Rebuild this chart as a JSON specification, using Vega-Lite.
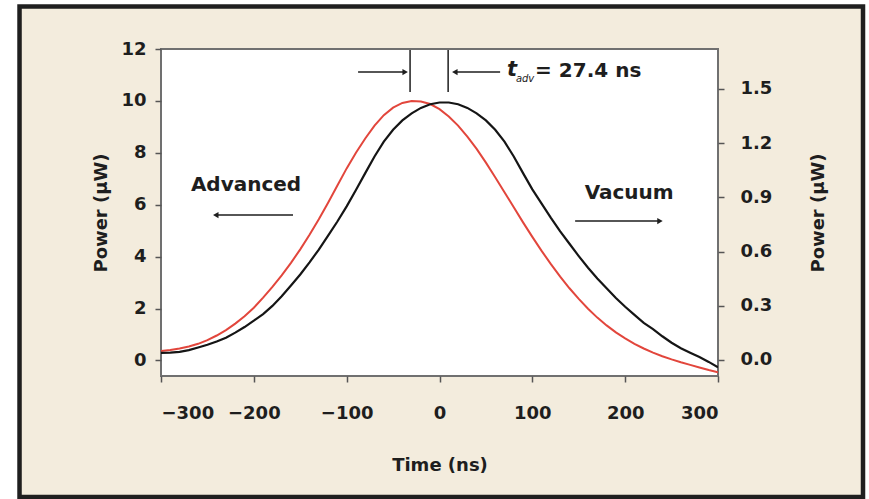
{
  "$schema": "https://vega.github.io/schema/vega-lite/v6.json",
  "width": 557,
  "height": 327,
  "autosize": {"type": "none"},
  "padding": {"left": 161, "top": 49, "right": 151, "bottom": 123},
  "background": "white",
  "config": {
    "view": {"stroke": null},
    "axis": {
      "grid": false,
      "domain": false,
      "tickColor": "#555555",
      "tickWidth": 1.5,
      "tickSize": 6,
      "labelFont": "DejaVu Sans",
      "labelFontWeight": "bold",
      "labelFontSize": 18,
      "labelColor": "#1e1e1e",
      "titleFont": "DejaVu Sans",
      "titleFontWeight": "bold",
      "titleFontSize": 18,
      "titleColor": "#1e1e1e"
    },
    "text": {"font": "DejaVu Sans", "fontWeight": "bold", "fontSize": 20, "color": "#1e1e1e"}
  },
  "datasets": {
    "pulse": [
      {"t": -300, "advanced": 0.36, "vacuum": 0.039},
      {"t": -290, "advanced": 0.40, "vacuum": 0.040},
      {"t": -280, "advanced": 0.46, "vacuum": 0.045},
      {"t": -270, "advanced": 0.54, "vacuum": 0.054},
      {"t": -260, "advanced": 0.64, "vacuum": 0.069},
      {"t": -250, "advanced": 0.78, "vacuum": 0.084},
      {"t": -240, "advanced": 0.96, "vacuum": 0.102},
      {"t": -230, "advanced": 1.17, "vacuum": 0.123},
      {"t": -220, "advanced": 1.42, "vacuum": 0.151},
      {"t": -210, "advanced": 1.70, "vacuum": 0.182},
      {"t": -200, "advanced": 2.03, "vacuum": 0.217},
      {"t": -190, "advanced": 2.42, "vacuum": 0.254},
      {"t": -180, "advanced": 2.83, "vacuum": 0.299},
      {"t": -170, "advanced": 3.28, "vacuum": 0.353},
      {"t": -160, "advanced": 3.76, "vacuum": 0.412},
      {"t": -150, "advanced": 4.28, "vacuum": 0.473},
      {"t": -140, "advanced": 4.84, "vacuum": 0.540},
      {"t": -130, "advanced": 5.44, "vacuum": 0.611},
      {"t": -120, "advanced": 6.08, "vacuum": 0.688},
      {"t": -110, "advanced": 6.74, "vacuum": 0.766},
      {"t": -100, "advanced": 7.40, "vacuum": 0.850},
      {"t": -90, "advanced": 8.00, "vacuum": 0.941},
      {"t": -80, "advanced": 8.55, "vacuum": 1.034},
      {"t": -70, "advanced": 9.05, "vacuum": 1.126},
      {"t": -60, "advanced": 9.45, "vacuum": 1.208},
      {"t": -50, "advanced": 9.74, "vacuum": 1.274},
      {"t": -40, "advanced": 9.92, "vacuum": 1.326},
      {"t": -30, "advanced": 10.0, "vacuum": 1.365},
      {"t": -20, "advanced": 9.98, "vacuum": 1.395},
      {"t": -10, "advanced": 9.88, "vacuum": 1.415},
      {"t": 0, "advanced": 9.68, "vacuum": 1.425},
      {"t": 10, "advanced": 9.40, "vacuum": 1.425},
      {"t": 20, "advanced": 9.05, "vacuum": 1.415},
      {"t": 30, "advanced": 8.62, "vacuum": 1.395},
      {"t": 40, "advanced": 8.15, "vacuum": 1.365},
      {"t": 50, "advanced": 7.62, "vacuum": 1.326},
      {"t": 60, "advanced": 7.06, "vacuum": 1.274},
      {"t": 70, "advanced": 6.48, "vacuum": 1.208},
      {"t": 80, "advanced": 5.90, "vacuum": 1.126},
      {"t": 90, "advanced": 5.32, "vacuum": 1.034},
      {"t": 100, "advanced": 4.76, "vacuum": 0.944},
      {"t": 110, "advanced": 4.22, "vacuum": 0.865},
      {"t": 120, "advanced": 3.71, "vacuum": 0.786},
      {"t": 130, "advanced": 3.23, "vacuum": 0.712},
      {"t": 140, "advanced": 2.78, "vacuum": 0.643},
      {"t": 150, "advanced": 2.37, "vacuum": 0.575},
      {"t": 160, "advanced": 1.99, "vacuum": 0.510},
      {"t": 170, "advanced": 1.65, "vacuum": 0.451},
      {"t": 180, "advanced": 1.35, "vacuum": 0.397},
      {"t": 190, "advanced": 1.08, "vacuum": 0.343},
      {"t": 200, "advanced": 0.85, "vacuum": 0.294},
      {"t": 210, "advanced": 0.64, "vacuum": 0.249},
      {"t": 220, "advanced": 0.46, "vacuum": 0.205},
      {"t": 230, "advanced": 0.30, "vacuum": 0.171},
      {"t": 240, "advanced": 0.16, "vacuum": 0.131},
      {"t": 250, "advanced": 0.04, "vacuum": 0.095},
      {"t": 260, "advanced": -0.07, "vacuum": 0.065},
      {"t": 270, "advanced": -0.17, "vacuum": 0.040},
      {"t": 280, "advanced": -0.27, "vacuum": 0.016},
      {"t": 290, "advanced": -0.37, "vacuum": -0.011},
      {"t": 300, "advanced": -0.46, "vacuum": -0.041}
    ]
  },
  "layer": [
    {
      "layer": [
        {
          "data": {"values": [{}]},
          "mark": {"type": "rect", "fill": "#f3ecdd", "stroke": "#1f1f1f", "strokeWidth": 4.5, "clip": false},
          "encoding": {
            "x": {"datum": -452.4, "type": "quantitative", "scale": {"domain": [-300, 300], "nice": false}},
            "x2": {"datum": 456.2},
            "y": {"datum": 13.64, "type": "quantitative", "scale": {"domain": [-0.6, 12], "nice": false, "zero": false}},
            "y2": {"datum": -5.26}
          }
        },
        {
          "data": {"values": [{}]},
          "mark": {"type": "rect", "fill": "white", "stroke": "#707070", "strokeWidth": 2, "clip": false},
          "encoding": {
            "x": {"datum": -300, "type": "quantitative"},
            "x2": {"datum": 300},
            "y": {"datum": -0.6, "type": "quantitative"},
            "y2": {"datum": 12}
          }
        },
        {
          "data": {"name": "pulse"},
          "mark": {"type": "line", "color": "#e2463c", "strokeWidth": 2, "clip": true},
          "encoding": {
            "x": {
              "field": "t", "type": "quantitative",
              "scale": {"domain": [-300, 300], "nice": false},
              "axis": {"title": "Time (ns)", "zindex": 2, "values": [-300, -200, -100, 0, 100, 200, 300], "format": "d", "labelPadding": 22, "titlePadding": 34}
            },
            "y": {
              "field": "advanced", "type": "quantitative",
              "scale": {"domain": [-0.6, 12], "nice": false, "zero": false},
              "axis": {"title": "Power (µW)", "zindex": 2, "orient": "left", "values": [0, 2, 4, 6, 8, 10, 12], "format": "d", "labelPadding": 9, "titlePadding": 10}
            }
          }
        },
        {
          "data": {"values": [{}]},
          "mark": {"type": "rule", "color": "#1e1e1e", "strokeWidth": 1.5},
          "encoding": {
            "x": {"datum": -157.8, "type": "quantitative"},
            "x2": {"datum": -240},
            "y": {"datum": 5.6, "type": "quantitative"}
          }
        },
        {
          "data": {"values": [{}]},
          "mark": {"type": "point", "shape": "triangle-left", "filled": true, "color": "#1e1e1e", "size": 40, "opacity": 1},
          "encoding": {
            "x": {"datum": -241, "type": "quantitative"},
            "y": {"datum": 5.6, "type": "quantitative"}
          }
        },
        {
          "data": {"values": [{}]},
          "mark": {"type": "rule", "color": "#1e1e1e", "strokeWidth": 1.5},
          "encoding": {
            "x": {"datum": 146.1, "type": "quantitative"},
            "x2": {"datum": 236},
            "y": {"datum": 5.37, "type": "quantitative"}
          }
        },
        {
          "data": {"values": [{}]},
          "mark": {"type": "point", "shape": "triangle-right", "filled": true, "color": "#1e1e1e", "size": 40, "opacity": 1},
          "encoding": {
            "x": {"datum": 237.5, "type": "quantitative"},
            "y": {"datum": 5.37, "type": "quantitative"}
          }
        },
        {
          "data": {"values": [{}]},
          "mark": {"type": "rule", "color": "#1e1e1e", "strokeWidth": 1.5},
          "encoding": {
            "x": {"datum": -87.7, "type": "quantitative"},
            "x2": {"datum": -37},
            "y": {"datum": 11.11, "type": "quantitative"}
          }
        },
        {
          "data": {"values": [{}]},
          "mark": {"type": "point", "shape": "triangle-right", "filled": true, "color": "#1e1e1e", "size": 40, "opacity": 1},
          "encoding": {
            "x": {"datum": -37, "type": "quantitative"},
            "y": {"datum": 11.11, "type": "quantitative"}
          }
        },
        {
          "data": {"values": [{}]},
          "mark": {"type": "rule", "color": "#1e1e1e", "strokeWidth": 1.5},
          "encoding": {
            "x": {"datum": 65.3, "type": "quantitative"},
            "x2": {"datum": 16.5},
            "y": {"datum": 11.11, "type": "quantitative"}
          }
        },
        {
          "data": {"values": [{}]},
          "mark": {"type": "point", "shape": "triangle-left", "filled": true, "color": "#1e1e1e", "size": 40, "opacity": 1},
          "encoding": {
            "x": {"datum": 16.5, "type": "quantitative"},
            "y": {"datum": 11.11, "type": "quantitative"}
          }
        },
        {
          "data": {"values": [{}]},
          "mark": {"type": "rule", "color": "#1e1e1e", "strokeWidth": 1.5},
          "encoding": {
            "x": {"datum": -31.7, "type": "quantitative"},
            "y": {"datum": 11.96, "type": "quantitative"},
            "y2": {"datum": 10.34}
          }
        },
        {
          "data": {"values": [{}]},
          "mark": {"type": "rule", "color": "#1e1e1e", "strokeWidth": 1.5},
          "encoding": {
            "x": {"datum": 9.3, "type": "quantitative"},
            "y": {"datum": 11.96, "type": "quantitative"},
            "y2": {"datum": 10.34}
          }
        },
        {
          "data": {"values": [{}]},
          "mark": {"type": "text", "text": "Advanced", "align": "center", "baseline": "middle"},
          "encoding": {
            "x": {"datum": -208.4, "type": "quantitative"},
            "y": {"datum": 6.76, "type": "quantitative"}
          }
        },
        {
          "data": {"values": [{}]},
          "mark": {"type": "text", "text": "Vacuum", "align": "center", "baseline": "middle"},
          "encoding": {
            "x": {"datum": 204.3, "type": "quantitative"},
            "y": {"datum": 6.45, "type": "quantitative"}
          }
        },
        {
          "data": {"values": [{}]},
          "mark": {"type": "text", "text": "t", "align": "center", "baseline": "middle", "fontStyle": "italic", "fontSize": 21},
          "encoding": {
            "x": {"datum": 78.2, "type": "quantitative"},
            "y": {"datum": 11.19, "type": "quantitative"}
          }
        },
        {
          "data": {"values": [{}]},
          "mark": {"type": "text", "text": "adv", "align": "center", "baseline": "middle", "fontStyle": "italic", "fontSize": 10, "fontWeight": "normal"},
          "encoding": {
            "x": {"datum": 92.2, "type": "quantitative"},
            "y": {"datum": 10.85, "type": "quantitative"}
          }
        },
        {
          "data": {"values": [{}]},
          "mark": {"type": "text", "text": "= 27.4 ns", "align": "left", "baseline": "middle"},
          "encoding": {
            "x": {"datum": 103, "type": "quantitative"},
            "y": {"datum": 11.15, "type": "quantitative"}
          }
        }
      ]
    },
    {
      "data": {"name": "pulse"},
      "mark": {"type": "line", "color": "#151515", "strokeWidth": 2.2, "clip": true},
      "encoding": {
        "x": {"field": "t", "type": "quantitative", "scale": {"domain": [-300, 300], "nice": false}},
        "y": {
          "field": "vacuum", "type": "quantitative",
          "scale": {"domain": [-0.089, 1.721], "nice": false, "zero": false},
          "axis": {"title": "Power (µW)", "zindex": 2, "orient": "right", "values": [0, 0.3, 0.6, 0.9, 1.2, 1.5], "format": ".1f", "labelPadding": 16, "titlePadding": 56, "titleAngle": 270}
        }
      }
    }
  ],
  "resolve": {"scale": {"y": "independent"}}
}
